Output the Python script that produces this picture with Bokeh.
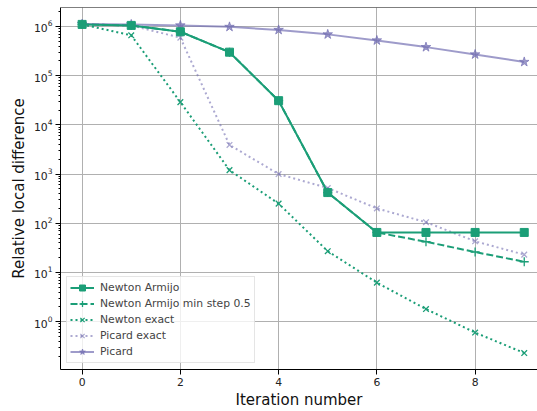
import numpy as np
from bokeh.plotting import figure
from bokeh.models import Range1d, Span, Legend, LegendItem, FixedTicker
from bokeh.embed import file_html
from bokeh.resources import INLINE

iterations = [0, 1, 2, 3, 4, 5, 6, 7, 8, 9]
newton_armijo = [1.1e6, 1.05e6, 7.8e5, 3.0e5, 3.1e4, 420, 65, 65, 65, 65]
newton_armijo_min = [1.1e6, 1.05e6, 7.8e5, 3.0e5, 3.1e4, 420, 65, 42, 26, 16.5]
newton_exact = [1.1e6, 6.6e5, 2.9e4, 1.2e3, 250, 27, 6.2, 1.8, 0.6, 0.23]
picard_exact = [1.1e6, 1.05e6, 5.9e5, 3.9e3, 1.0e3, 520, 200, 105, 43, 23]
picard = [1.12e6, 1.1e6, 1.05e6, 9.8e5, 8.5e5, 6.9e5, 5.2e5, 3.8e5, 2.7e5, 1.9e5]

GREEN = "#1b9e77"
PURPLE = "#7570b3"
FONT = "DejaVu Sans"

y_lo, y_hi = 10 ** -0.973, 10 ** 6.385
p = figure(width=537, height=411, y_axis_type="log", output_backend="svg",
           toolbar_location=None, x_range=Range1d(-0.44, 9.27),
           y_range=Range1d(y_lo, y_hi),
           min_border_left=60, min_border_right=0, min_border_top=7,
           min_border_bottom=41)
p.outline_line_color = None
p.add_layout(Span(location=y_hi, dimension="width", line_color="black", line_width=1))
p.background_fill_color = "white"

p.xaxis.ticker = FixedTicker(ticks=[0, 2, 4, 6, 8])
for ax in (p.xaxis[0], p.yaxis[0]):
    ax.axis_line_color = "black"
    ax.major_tick_line_color = "black"
    ax.minor_tick_line_color = "black"
    ax.major_tick_out = 5
    ax.major_tick_in = 0
    ax.minor_tick_out = 2
    ax.minor_tick_in = 0
    ax.major_label_text_font = FONT
    ax.major_label_text_font_size = "10.8px"
    ax.major_label_text_color = "#222222"
    ax.major_label_standoff = 3
    ax.axis_label_text_font = FONT
    ax.axis_label_text_font_size = "15px"
    ax.axis_label_text_font_style = "normal"
    ax.axis_label_text_color = "#111111"
p.xaxis.minor_tick_line_color = None
p.xaxis.axis_label = "Iteration number"
p.yaxis.axis_label = "Relative local difference"
p.xaxis.axis_label_standoff = 2
p.yaxis.axis_label_standoff = 3

p.xgrid.grid_line_color = "#b0b0b0"
p.ygrid.grid_line_color = "#b0b0b0"
p.xgrid.grid_line_width = 1
p.ygrid.grid_line_width = 1

x = iterations

r1 = p.line(x, newton_armijo_min, line_color=GREEN, line_width=2, line_dash="7 3")
r1m = p.scatter(x, newton_armijo_min, marker="cross", size=9, line_color=GREEN, line_width=1.3)

r2 = p.line(x, newton_exact, line_color=GREEN, line_width=2, line_dash="2 3")
r2m = p.scatter(x, newton_exact, marker="x", size=8, line_color=GREEN, line_width=1.3)

r3 = p.line(x, picard_exact, line_color=PURPLE, line_alpha=0.6, line_width=2, line_dash="2 3")
r3m = p.scatter(x, picard_exact, marker="x", size=8, line_color=PURPLE, line_alpha=0.6, line_width=1.3)

r4 = p.line(x, picard, line_color=PURPLE, line_alpha=0.7, line_width=2)
r4m = p.scatter(x, picard, marker="star", size=10, line_color=PURPLE, fill_color=PURPLE,
                line_alpha=0.7, fill_alpha=0.7)

r0 = p.line(x, newton_armijo, line_color=GREEN, line_width=2)
r0m = p.scatter(x, newton_armijo, marker="square", size=8, line_color=GREEN, fill_color=GREEN)

legend = Legend(items=[
    LegendItem(label="Newton Armijo", renderers=[r0, r0m]),
    LegendItem(label="Newton Armijo min step 0.5", renderers=[r1, r1m]),
    LegendItem(label="Newton exact", renderers=[r2, r2m]),
    LegendItem(label="Picard exact", renderers=[r3, r3m]),
    LegendItem(label="Picard", renderers=[r4, r4m]),
], location="bottom_left")
legend.margin = 6
legend.padding = 3
legend.spacing = 1
legend.label_height = 15
legend.glyph_height = 15
legend.glyph_width = 24
legend.label_text_font = FONT
legend.label_text_font_size = "10.8px"
legend.label_standoff = 6
legend.border_line_color = "#cccccc"
legend.background_fill_alpha = 0.8
p.add_layout(legend)

open("out.html", "w").write(file_html(p, INLINE))
